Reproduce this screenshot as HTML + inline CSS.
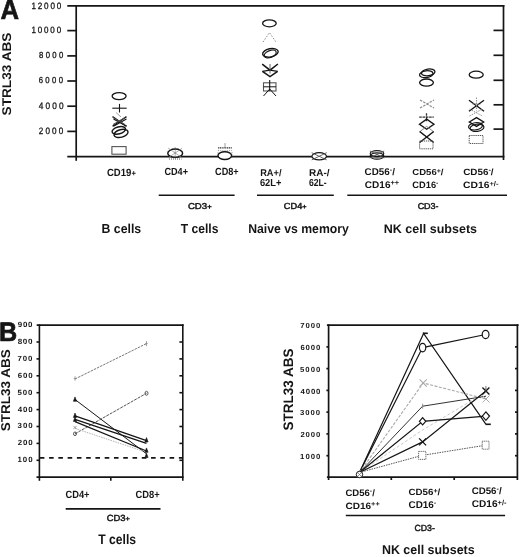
<!DOCTYPE html>
<html><head><meta charset="utf-8"><title>STRL33 expression</title>
<style>html,body{margin:0;padding:0;background:#fff;}svg{display:block;will-change:transform;}
text{font-family:"Liberation Sans",sans-serif;text-rendering:geometricPrecision;}</style></head>
<body><svg width="520" height="557" viewBox="0 0 520 557">
<rect width="520" height="557" fill="#fff"/>
<line x1="67.3" y1="5.8" x2="504.4" y2="5.8" stroke="#151515" stroke-width="1.70"/>
<line x1="76.2" y1="5.0" x2="76.2" y2="160.8" stroke="#151515" stroke-width="1.70"/>
<line x1="503.5" y1="5.0" x2="503.5" y2="160.0" stroke="#151515" stroke-width="1.70"/>
<line x1="67.3" y1="156.7" x2="504.4" y2="156.7" stroke="#151515" stroke-width="1.70"/>
<line x1="67.3" y1="30.6" x2="76.2" y2="30.6" stroke="#151515" stroke-width="1.70"/>
<line x1="67.3" y1="55.9" x2="76.2" y2="55.9" stroke="#151515" stroke-width="1.70"/>
<line x1="67.3" y1="81.0" x2="76.2" y2="81.0" stroke="#151515" stroke-width="1.70"/>
<line x1="67.3" y1="106.2" x2="76.2" y2="106.2" stroke="#151515" stroke-width="1.70"/>
<line x1="67.3" y1="131.4" x2="76.2" y2="131.4" stroke="#151515" stroke-width="1.70"/>
<line x1="493.5" y1="30.4" x2="503.5" y2="30.4" stroke="#151515" stroke-width="1.70"/>
<line x1="493.5" y1="55.3" x2="503.5" y2="55.3" stroke="#151515" stroke-width="1.70"/>
<line x1="493.5" y1="80.3" x2="503.5" y2="80.3" stroke="#151515" stroke-width="1.70"/>
<line x1="493.5" y1="104.8" x2="503.5" y2="104.8" stroke="#151515" stroke-width="1.70"/>
<line x1="493.5" y1="129.1" x2="503.5" y2="129.1" stroke="#151515" stroke-width="1.70"/>
<line x1="158.7" y1="195.2" x2="234.6" y2="195.2" stroke="#151515" stroke-width="1.60"/>
<line x1="257.0" y1="195.2" x2="333.8" y2="195.2" stroke="#151515" stroke-width="1.60"/>
<line x1="347.3" y1="195.2" x2="507.0" y2="195.2" stroke="#151515" stroke-width="1.60"/>
<ellipse cx="119.1" cy="96.1" rx="7.0" ry="3.5" fill="none" stroke="#151515" stroke-width="1.30"/>
<line x1="112.3" y1="108.2" x2="126.7" y2="108.2" stroke="#151515" stroke-width="1.10"/>
<line x1="119.5" y1="103.9" x2="119.5" y2="112.5" stroke="#151515" stroke-width="1.10"/>
<line x1="112.5" y1="116.6" x2="126.5" y2="126.2" stroke="#151515" stroke-width="1.30"/>
<line x1="112.5" y1="126.2" x2="126.5" y2="116.6" stroke="#151515" stroke-width="1.30"/>
<line x1="113.5" y1="119.0" x2="126.5" y2="126.2" stroke="#151515" stroke-width="1.10"/>
<line x1="113.5" y1="126.2" x2="126.5" y2="119.0" stroke="#151515" stroke-width="1.10"/>
<line x1="113.0" y1="117.5" x2="125.0" y2="124.5" stroke="#555" stroke-width="1.00"/>
<line x1="113.0" y1="124.5" x2="125.0" y2="117.5" stroke="#555" stroke-width="1.00"/>
<ellipse cx="118.8" cy="130.4" rx="6.9" ry="3.5" fill="none" stroke="#151515" stroke-width="1.40" transform="rotate(-15.0 118.8 130.4)"/>
<ellipse cx="121.0" cy="133.4" rx="7.2" ry="3.8" fill="none" stroke="#151515" stroke-width="1.40" transform="rotate(-15.0 121.0 133.4)"/>
<line x1="116.0" y1="112.5" x2="121.0" y2="117.0" stroke="#888" stroke-width="0.80"/>
<rect x="111.9" y="146.6" width="14.2" height="7.6" fill="none" stroke="#555" stroke-width="1.10"/>
<line x1="169.0" y1="159.0" x2="181.5" y2="159.0" stroke="#555" stroke-width="1.00" stroke-dasharray="1 1"/>
<ellipse cx="175.2" cy="153.2" rx="7.4" ry="4.1" fill="#fff" stroke="#151515" stroke-width="1.50"/>
<line x1="168.2" y1="148.2" x2="182.2" y2="157.8" stroke="#888" stroke-width="0.70"/>
<line x1="168.2" y1="157.8" x2="182.2" y2="148.2" stroke="#888" stroke-width="0.70"/>
<line x1="175.2" y1="147.5" x2="175.2" y2="159.0" stroke="#555" stroke-width="0.90" stroke-dasharray="1 1"/>
<line x1="225.0" y1="143.0" x2="225.0" y2="148.0" stroke="#888" stroke-width="0.80"/>
<line x1="218.0" y1="147.9" x2="232.0" y2="147.9" stroke="#333" stroke-width="1.30" stroke-dasharray="1.2 0.6"/>
<rect x="218.0" y="150.6" width="14.0" height="6.0" fill="none" stroke="#888" stroke-width="0.80" stroke-dasharray="1 1.2"/>
<ellipse cx="224.8" cy="155.6" rx="6.8" ry="3.9" fill="#fff" stroke="#151515" stroke-width="1.40"/>
<ellipse cx="269.4" cy="23.3" rx="6.8" ry="3.5" fill="none" stroke="#151515" stroke-width="1.30"/>
<polyline points="263.0,42.0 269.5,32.6 276.0,42.0" fill="none" stroke="#888" stroke-width="1.00" stroke-dasharray="1.5 1.5"/>
<ellipse cx="270.4" cy="52.8" rx="7.9" ry="4.1" fill="none" stroke="#151515" stroke-width="1.40" transform="rotate(-12.0 270.4 52.8)"/>
<ellipse cx="270.2" cy="54.0" rx="6.3" ry="3.4" fill="none" stroke="#151515" stroke-width="1.20" transform="rotate(-22.0 270.2 54.0)"/>
<polyline points="262.2,64.2 270.0,70.2 277.9,64.0" fill="none" stroke="#151515" stroke-width="1.50"/>
<polyline points="262.4,71.4 270.0,70.2 277.6,71.4" fill="none" stroke="#151515" stroke-width="1.30"/>
<polyline points="262.4,71.4 270.0,76.6 277.6,71.4" fill="none" stroke="#151515" stroke-width="1.50"/>
<line x1="270.0" y1="64.0" x2="270.0" y2="73.5" stroke="#555" stroke-width="0.90"/>
<rect x="263.5" y="82.8" width="12.5" height="8.2" fill="none" stroke="#555" stroke-width="1.10"/>
<line x1="269.7" y1="80.0" x2="269.7" y2="91.0" stroke="#151515" stroke-width="1.10"/>
<line x1="263.5" y1="86.8" x2="276.0" y2="86.8" stroke="#151515" stroke-width="1.00"/>
<line x1="269.7" y1="89.0" x2="263.5" y2="96.0" stroke="#151515" stroke-width="1.00"/>
<line x1="269.7" y1="89.0" x2="276.0" y2="96.0" stroke="#151515" stroke-width="1.00"/>
<ellipse cx="319.2" cy="156.3" rx="7.3" ry="3.6" fill="#fff" stroke="#151515" stroke-width="1.20"/>
<line x1="311.7" y1="152.7" x2="326.7" y2="159.9" stroke="#555" stroke-width="0.90"/>
<line x1="311.7" y1="159.9" x2="326.7" y2="152.7" stroke="#555" stroke-width="0.90"/>
<ellipse cx="377.0" cy="153.6" rx="6.8" ry="3.0" fill="none" stroke="#151515" stroke-width="1.20"/>
<ellipse cx="377.0" cy="156.0" rx="6.8" ry="3.2" fill="none" stroke="#151515" stroke-width="1.20"/>
<line x1="369.8" y1="151.0" x2="384.2" y2="158.0" stroke="#555" stroke-width="0.90"/>
<line x1="369.8" y1="158.0" x2="384.2" y2="151.0" stroke="#555" stroke-width="0.90"/>
<ellipse cx="428.2" cy="72.4" rx="6.8" ry="3.4" fill="none" stroke="#151515" stroke-width="1.30" transform="rotate(-8.0 428.2 72.4)"/>
<ellipse cx="426.3" cy="74.2" rx="6.8" ry="3.4" fill="none" stroke="#151515" stroke-width="1.30" transform="rotate(-8.0 426.3 74.2)"/>
<ellipse cx="426.5" cy="82.6" rx="6.9" ry="3.6" fill="none" stroke="#151515" stroke-width="1.30"/>
<line x1="420.0" y1="100.0" x2="434.0" y2="108.0" stroke="#888" stroke-width="1.10" stroke-dasharray="2.5 1.2"/>
<line x1="420.0" y1="108.0" x2="434.0" y2="100.0" stroke="#888" stroke-width="1.10" stroke-dasharray="2.5 1.2"/>
<line x1="419.2" y1="117.2" x2="433.8" y2="117.2" stroke="#333" stroke-width="1.30" stroke-dasharray="2.6 0.7"/>
<line x1="426.5" y1="113.2" x2="426.5" y2="121.2" stroke="#333" stroke-width="1.30" stroke-dasharray="2.6 0.7"/>
<polygon points="419.5,124.2 426.7,119.2 433.9,124.2 426.7,129.2" fill="none" stroke="#151515" stroke-width="1.40"/>
<polygon points="419.7,131.8 426.7,126.4 433.7,131.8 426.7,137.2" fill="none" stroke="#888" stroke-width="1.00"/>
<line x1="419.7" y1="131.5" x2="433.7" y2="142.5" stroke="#151515" stroke-width="1.40"/>
<line x1="419.7" y1="142.5" x2="433.7" y2="131.5" stroke="#151515" stroke-width="1.40"/>
<rect x="419.6" y="141.0" width="13.4" height="7.8" fill="none" stroke="#555" stroke-width="1.00" stroke-dasharray="1.3 0.8"/>
<ellipse cx="476.2" cy="74.7" rx="7.0" ry="3.5" fill="none" stroke="#151515" stroke-width="1.30"/>
<line x1="469.0" y1="100.3" x2="484.0" y2="111.3" stroke="#151515" stroke-width="1.40"/>
<line x1="469.0" y1="111.3" x2="484.0" y2="100.3" stroke="#151515" stroke-width="1.40"/>
<line x1="472.5" y1="104.0" x2="480.5" y2="104.0" stroke="#888" stroke-width="0.90" stroke-dasharray="1.5 1"/>
<line x1="476.5" y1="97.5" x2="476.5" y2="110.5" stroke="#888" stroke-width="0.90" stroke-dasharray="1.5 1"/>
<line x1="469.5" y1="109.0" x2="482.5" y2="116.0" stroke="#888" stroke-width="0.90" stroke-dasharray="1.5 1"/>
<line x1="469.5" y1="116.0" x2="482.5" y2="109.0" stroke="#888" stroke-width="0.90" stroke-dasharray="1.5 1"/>
<polygon points="469.3,122.0 476.5,117.6 483.7,122.0 476.5,126.4" fill="none" stroke="#151515" stroke-width="1.30"/>
<ellipse cx="475.5" cy="126.3" rx="7.0" ry="3.6" fill="none" stroke="#151515" stroke-width="1.20" transform="rotate(-8.0 475.5 126.3)"/>
<ellipse cx="477.0" cy="127.8" rx="7.0" ry="3.6" fill="none" stroke="#151515" stroke-width="1.20" transform="rotate(-8.0 477.0 127.8)"/>
<rect x="469.2" y="135.5" width="13.8" height="8.0" fill="none" stroke="#555" stroke-width="1.00" stroke-dasharray="1.3 0.8"/>
<line x1="36.7" y1="325.1" x2="183.6" y2="325.1" stroke="#151515" stroke-width="1.60"/>
<line x1="39.4" y1="324.3" x2="39.4" y2="480.8" stroke="#151515" stroke-width="1.60"/>
<line x1="182.8" y1="324.3" x2="182.8" y2="480.8" stroke="#151515" stroke-width="1.60"/>
<line x1="36.5" y1="477.1" x2="183.6" y2="477.1" stroke="#151515" stroke-width="1.60"/>
<line x1="36.5" y1="342.0" x2="39.4" y2="342.0" stroke="#151515" stroke-width="1.60"/>
<line x1="179.4" y1="342.0" x2="182.8" y2="342.0" stroke="#151515" stroke-width="1.60"/>
<line x1="36.5" y1="358.9" x2="39.4" y2="358.9" stroke="#151515" stroke-width="1.60"/>
<line x1="179.4" y1="358.9" x2="182.8" y2="358.9" stroke="#151515" stroke-width="1.60"/>
<line x1="36.5" y1="375.8" x2="39.4" y2="375.8" stroke="#151515" stroke-width="1.60"/>
<line x1="179.4" y1="375.8" x2="182.8" y2="375.8" stroke="#151515" stroke-width="1.60"/>
<line x1="36.5" y1="392.7" x2="39.4" y2="392.7" stroke="#151515" stroke-width="1.60"/>
<line x1="179.4" y1="392.7" x2="182.8" y2="392.7" stroke="#151515" stroke-width="1.60"/>
<line x1="36.5" y1="409.6" x2="39.4" y2="409.6" stroke="#151515" stroke-width="1.60"/>
<line x1="179.4" y1="409.6" x2="182.8" y2="409.6" stroke="#151515" stroke-width="1.60"/>
<line x1="36.5" y1="426.5" x2="39.4" y2="426.5" stroke="#151515" stroke-width="1.60"/>
<line x1="179.4" y1="426.5" x2="182.8" y2="426.5" stroke="#151515" stroke-width="1.60"/>
<line x1="36.5" y1="443.4" x2="39.4" y2="443.4" stroke="#151515" stroke-width="1.60"/>
<line x1="179.4" y1="443.4" x2="182.8" y2="443.4" stroke="#151515" stroke-width="1.60"/>
<line x1="36.5" y1="460.3" x2="39.4" y2="460.3" stroke="#151515" stroke-width="1.60"/>
<line x1="179.4" y1="460.3" x2="182.8" y2="460.3" stroke="#151515" stroke-width="1.60"/>
<line x1="110.8" y1="477.1" x2="110.8" y2="480.8" stroke="#151515" stroke-width="1.60"/>
<line x1="39.8" y1="457.8" x2="182.5" y2="457.8" stroke="#151515" stroke-width="1.80" stroke-dasharray="4.6 4.67"/>
<line x1="65.7" y1="508.9" x2="160.5" y2="508.9" stroke="#151515" stroke-width="1.60"/>
<polyline points="75.0,379.0 146.5,343.6" fill="none" stroke="#666" stroke-width="0.90" stroke-dasharray="2.5 1"/>
<line x1="73.8" y1="378.5" x2="76.2" y2="378.5" stroke="#888" stroke-width="0.80"/>
<line x1="75.0" y1="376.3" x2="75.0" y2="380.7" stroke="#888" stroke-width="0.80"/>
<line x1="145.3" y1="343.6" x2="147.7" y2="343.6" stroke="#888" stroke-width="0.80"/>
<line x1="146.5" y1="341.1" x2="146.5" y2="346.1" stroke="#888" stroke-width="0.80"/>
<polyline points="75.0,399.5 146.5,453.8" fill="none" stroke="#151515" stroke-width="1.00"/>
<polyline points="75.0,433.8 146.5,393.3" fill="none" stroke="#555" stroke-width="1.00" stroke-dasharray="3 1"/>
<polyline points="75.0,415.9 146.5,440.7" fill="none" stroke="#151515" stroke-width="1.30"/>
<polyline points="75.0,419.3 146.5,443.3" fill="none" stroke="#151515" stroke-width="1.30"/>
<polyline points="75.0,421.6 146.5,451.0" fill="none" stroke="#151515" stroke-width="1.20"/>
<polyline points="75.0,428.4 146.5,452.3" fill="none" stroke="#aaa" stroke-width="0.90" stroke-dasharray="1.5 1"/>
<polygon points="73.4,401.3 75.0,396.9 76.6,401.3" fill="#151515" stroke="#151515" stroke-width="0.60"/>
<polygon points="73.4,417.4 75.0,413.0 76.6,417.4" fill="#151515" stroke="#151515" stroke-width="0.60"/>
<polygon points="73.4,421.4 75.0,417.0 76.6,421.4" fill="#151515" stroke="#151515" stroke-width="0.60"/>
<polygon points="144.9,442.0 146.5,437.6 148.1,442.0" fill="#151515" stroke="#151515" stroke-width="0.60"/>
<polygon points="144.9,452.3 146.5,447.9 148.1,452.3" fill="#151515" stroke="#151515" stroke-width="0.60"/>
<polygon points="144.9,457.6 146.5,453.2 148.1,457.6" fill="#151515" stroke="#151515" stroke-width="0.60"/>
<line x1="73.4" y1="425.9" x2="76.6" y2="429.1" stroke="#888" stroke-width="0.80"/>
<line x1="73.4" y1="429.1" x2="76.6" y2="425.9" stroke="#888" stroke-width="0.80"/>
<ellipse cx="75.0" cy="433.8" rx="1.5" ry="1.8" fill="none" stroke="#555" stroke-width="1.00"/>
<ellipse cx="146.5" cy="393.3" rx="1.5" ry="2.0" fill="none" stroke="#555" stroke-width="1.00"/>
<line x1="326.9" y1="325.1" x2="518.6" y2="325.1" stroke="#151515" stroke-width="1.70"/>
<line x1="328.6" y1="324.3" x2="328.6" y2="480.0" stroke="#151515" stroke-width="1.70"/>
<line x1="517.4" y1="324.3" x2="517.4" y2="480.0" stroke="#151515" stroke-width="1.70"/>
<line x1="326.9" y1="477.1" x2="517.4" y2="477.1" stroke="#151515" stroke-width="1.70"/>
<line x1="326.4" y1="346.9" x2="328.6" y2="346.9" stroke="#151515" stroke-width="1.70"/>
<line x1="515.0" y1="346.9" x2="517.4" y2="346.9" stroke="#151515" stroke-width="1.70"/>
<line x1="326.4" y1="368.6" x2="328.6" y2="368.6" stroke="#151515" stroke-width="1.70"/>
<line x1="515.0" y1="368.6" x2="517.4" y2="368.6" stroke="#151515" stroke-width="1.70"/>
<line x1="326.4" y1="390.4" x2="328.6" y2="390.4" stroke="#151515" stroke-width="1.70"/>
<line x1="515.0" y1="390.4" x2="517.4" y2="390.4" stroke="#151515" stroke-width="1.70"/>
<line x1="326.4" y1="412.1" x2="328.6" y2="412.1" stroke="#151515" stroke-width="1.70"/>
<line x1="515.0" y1="412.1" x2="517.4" y2="412.1" stroke="#151515" stroke-width="1.70"/>
<line x1="326.4" y1="433.9" x2="328.6" y2="433.9" stroke="#151515" stroke-width="1.70"/>
<line x1="515.0" y1="433.9" x2="517.4" y2="433.9" stroke="#151515" stroke-width="1.70"/>
<line x1="326.4" y1="455.7" x2="328.6" y2="455.7" stroke="#151515" stroke-width="1.70"/>
<line x1="515.0" y1="455.7" x2="517.4" y2="455.7" stroke="#151515" stroke-width="1.70"/>
<line x1="391.3" y1="477.1" x2="391.3" y2="480.0" stroke="#151515" stroke-width="1.70"/>
<line x1="454.2" y1="477.1" x2="454.2" y2="480.0" stroke="#151515" stroke-width="1.70"/>
<line x1="345.8" y1="515.5" x2="505.1" y2="515.5" stroke="#151515" stroke-width="1.70"/>
<polyline points="359.5,472.5 423.6,333.4 485.8,424.2" fill="none" stroke="#151515" stroke-width="1.20"/>
<line x1="422.8" y1="333.3" x2="427.8" y2="333.3" stroke="#151515" stroke-width="1.60"/>
<line x1="485.5" y1="424.3" x2="490.8" y2="424.3" stroke="#151515" stroke-width="1.60"/>
<polyline points="359.5,472.5 422.6,347.6 485.6,334.5" fill="none" stroke="#151515" stroke-width="1.20"/>
<polyline points="359.5,472.5 423.2,383.0 486.0,399.0" fill="none" stroke="#aaa" stroke-width="1.10" stroke-dasharray="3 1.5"/>
<polyline points="359.5,472.5 422.6,406.2 486.0,396.2" fill="none" stroke="#333" stroke-width="1.00"/>
<polyline points="359.5,472.5 422.6,430.0 486.0,392.0" fill="none" stroke="#c8c8c8" stroke-width="1.00" stroke-dasharray="3 2"/>
<polyline points="359.5,472.5 422.6,421.3 485.9,416.1" fill="none" stroke="#151515" stroke-width="1.20"/>
<polyline points="359.5,472.5 422.6,441.9 485.9,391.0" fill="none" stroke="#151515" stroke-width="1.20"/>
<polyline points="359.5,472.5 422.2,455.4 485.6,445.2" fill="none" stroke="#555" stroke-width="1.00" stroke-dasharray="1.5 1"/>
<ellipse cx="422.6" cy="347.6" rx="3.2" ry="4.2" fill="#fff" stroke="#151515" stroke-width="1.20"/>
<ellipse cx="485.6" cy="334.5" rx="3.4" ry="4.2" fill="#fff" stroke="#151515" stroke-width="1.20"/>
<line x1="419.6" y1="379.4" x2="426.8" y2="386.6" stroke="#aaa" stroke-width="1.10"/>
<line x1="419.6" y1="386.6" x2="426.8" y2="379.4" stroke="#aaa" stroke-width="1.10"/>
<line x1="482.5" y1="395.5" x2="489.5" y2="402.5" stroke="#aaa" stroke-width="1.00"/>
<line x1="482.5" y1="402.5" x2="489.5" y2="395.5" stroke="#aaa" stroke-width="1.00"/>
<line x1="421.8" y1="406.2" x2="423.4" y2="406.2" stroke="#888" stroke-width="0.90"/>
<line x1="422.6" y1="403.7" x2="422.6" y2="408.7" stroke="#888" stroke-width="0.90"/>
<polygon points="419.4,421.3 422.6,417.7 425.8,421.3 422.6,424.9" fill="#fff" stroke="#151515" stroke-width="1.20"/>
<polygon points="482.3,416.1 485.9,411.9 489.5,416.1 485.9,420.3" fill="#fff" stroke="#151515" stroke-width="1.20"/>
<line x1="419.1" y1="438.4" x2="426.1" y2="445.4" stroke="#151515" stroke-width="1.30"/>
<line x1="419.1" y1="445.4" x2="426.1" y2="438.4" stroke="#151515" stroke-width="1.30"/>
<line x1="482.4" y1="387.5" x2="489.4" y2="394.5" stroke="#151515" stroke-width="1.30"/>
<line x1="482.4" y1="394.5" x2="489.4" y2="387.5" stroke="#151515" stroke-width="1.30"/>
<line x1="485.4" y1="389.0" x2="486.4" y2="389.0" stroke="#555" stroke-width="0.80"/>
<line x1="485.9" y1="386.0" x2="485.9" y2="392.0" stroke="#555" stroke-width="0.80"/>
<rect x="418.6" y="451.4" width="7.3" height="8.0" fill="#fff" stroke="#555" stroke-width="0.90" stroke-dasharray="1.2 0.8"/>
<rect x="482.2" y="441.2" width="6.8" height="8.0" fill="#fff" stroke="#555" stroke-width="0.90" stroke-dasharray="1.2 0.8"/>
<ellipse cx="359.5" cy="474.5" rx="3.2" ry="3.2" fill="#fff" stroke="#151515" stroke-width="1.00"/>
<line x1="357.0" y1="472.0" x2="362.0" y2="477.0" stroke="#555" stroke-width="0.60"/>
<line x1="357.0" y1="477.0" x2="362.0" y2="472.0" stroke="#555" stroke-width="0.60"/>
<text transform="translate(0.45 18.89) scale(0.9292 1)" font-size="27.65" font-weight="bold" fill="#151515" stroke="#151515" stroke-width="0.70" stroke-linejoin="round">A</text>
<text transform="translate(31.38 8.63) scale(0.8800 1)" font-size="9.20" fill="#151515" stroke="#151515" stroke-width="0.30" stroke-linejoin="round" letter-spacing="2.13">12000</text>
<text transform="translate(31.42 33.32) scale(0.8800 1)" font-size="9.10" fill="#151515" stroke="#151515" stroke-width="0.30" stroke-linejoin="round" letter-spacing="2.11">10000</text>
<text transform="translate(38.98 57.95) scale(0.8800 1)" font-size="8.80" fill="#151515" stroke="#151515" stroke-width="0.30" stroke-linejoin="round" letter-spacing="2.68">8000</text>
<text transform="translate(38.66 83.27) scale(0.8800 1)" font-size="8.76" fill="#151515" stroke="#151515" stroke-width="0.30" stroke-linejoin="round" letter-spacing="2.76">6000</text>
<text transform="translate(38.78 109.47) scale(0.8800 1)" font-size="9.39" fill="#151515" stroke="#151515" stroke-width="0.30" stroke-linejoin="round" letter-spacing="2.45">4000</text>
<text transform="translate(38.65 133.85) scale(0.8800 1)" font-size="9.26" fill="#151515" stroke="#151515" stroke-width="0.30" stroke-linejoin="round" letter-spacing="2.50">2000</text>
<text transform="translate(10.73 115.45) rotate(-90) scale(1.0809 1)" font-size="12.63" font-weight="bold" fill="#151515">STRL33 ABS</text>
<text transform="translate(106.97 176.00) scale(0.9152 1)" font-size="10.44" font-weight="bold" fill="#151515">CD19<tspan font-size="8.35">+</tspan></text>
<text transform="translate(164.47 175.41) scale(0.8834 1)" font-size="10.29" font-weight="bold" fill="#151515">CD4+</text>
<text transform="translate(215.05 175.42) scale(0.8765 1)" font-size="10.44" font-weight="bold" fill="#151515">CD8+</text>
<text transform="translate(260.15 175.99) scale(0.9492 1)" font-size="9.74" font-weight="bold" fill="#151515">RA+/</text>
<text transform="translate(259.94 185.92) scale(0.9156 1)" font-size="10.16" font-weight="bold" fill="#151515">62L+</text>
<text transform="translate(309.04 175.79) scale(1.0202 1)" font-size="9.79" font-weight="bold" fill="#151515">RA-/</text>
<text transform="translate(308.97 185.92) scale(0.8474 1)" font-size="10.20" font-weight="bold" fill="#151515">62L-</text>
<text transform="translate(364.59 174.90) scale(1.0022 1)" font-size="9.82" font-weight="bold" fill="#151515">CD56<tspan font-size="7.27" dy="-2.95">-</tspan><tspan dy="2.95">/</tspan></text>
<text transform="translate(364.80 187.70) scale(1.0394 1)" font-size="9.66" font-weight="bold" fill="#151515">CD16<tspan font-size="7.14" dy="-2.90">++</tspan></text>
<text transform="translate(412.33 175.13) scale(1.0900 1)" font-size="8.75" font-weight="bold" fill="#151515">CD56<tspan font-size="6.48" dy="-2.63">+</tspan><tspan dy="2.63">/</tspan></text>
<text transform="translate(412.32 187.93) scale(0.9980 1)" font-size="9.31" font-weight="bold" fill="#151515">CD16<tspan font-size="6.89" dy="-2.79">-</tspan></text>
<text transform="translate(463.16 174.83) scale(1.0867 1)" font-size="9.08" font-weight="bold" fill="#151515">CD56<tspan font-size="6.72" dy="-2.72">-</tspan><tspan dy="2.72">/</tspan></text>
<text transform="translate(462.96 188.10) scale(1.1228 1)" font-size="9.21" font-weight="bold" fill="#151515">CD16<tspan font-size="6.81" dy="-1.75">+/-</tspan></text>
<text transform="translate(187.89 208.53) scale(1.1329 1)" font-size="8.49" fill="#151515" stroke="#151515" stroke-width="0.45" stroke-linejoin="round">CD3<tspan font-size="6.79">+</tspan></text>
<text transform="translate(283.81 208.71) scale(1.0521 1)" font-size="8.77" fill="#151515" stroke="#151515" stroke-width="0.45" stroke-linejoin="round">CD4<tspan font-size="7.02">+</tspan></text>
<text transform="translate(417.64 208.77) scale(1.0536 1)" font-size="8.52" fill="#151515" stroke="#151515" stroke-width="0.45" stroke-linejoin="round">CD3-</text>
<text transform="translate(101.53 233.21) scale(0.9498 1)" font-size="12.95" font-weight="bold" fill="#151515">B cells</text>
<text transform="translate(180.80 233.22) scale(0.9216 1)" font-size="13.13" font-weight="bold" fill="#151515">T cells</text>
<text transform="translate(248.14 233.29) scale(0.9566 1)" font-size="12.80" font-weight="bold" fill="#151515">Naive vs memory</text>
<text transform="translate(383.75 232.89) scale(1.0100 1)" font-size="12.41" font-weight="bold" fill="#151515">NK cell subsets</text>
<text transform="translate(-0.89 340.81) scale(0.9394 1)" font-size="26.82" font-weight="bold" fill="#151515" stroke="#151515" stroke-width="0.70" stroke-linejoin="round">B</text>
<text transform="translate(10.32 431.23) rotate(-90) scale(1.0575 1)" font-size="12.77" font-weight="bold" fill="#151515">STRL33 ABS</text>
<text transform="translate(65.45 498.31) scale(0.8810 1)" font-size="10.57" font-weight="bold" fill="#151515">CD4+</text>
<text transform="translate(135.48 498.20) scale(0.8860 1)" font-size="10.57" font-weight="bold" fill="#151515">CD8+</text>
<text transform="translate(106.78 521.26) scale(1.0640 1)" font-size="8.86" fill="#151515" stroke="#151515" stroke-width="0.45" stroke-linejoin="round">CD3<tspan font-size="7.09">+</tspan></text>
<text transform="translate(98.33 543.79) scale(0.8824 1)" font-size="13.76" font-weight="bold" fill="#151515">T cells</text>
<text transform="translate(292.75 430.62) rotate(-90) scale(0.9847 1)" font-size="13.74" font-weight="bold" fill="#151515">STRL33 ABS</text>
<text transform="translate(345.39 495.89) scale(1.0139 1)" font-size="9.43" font-weight="bold" fill="#151515">CD56<tspan font-size="6.98" dy="-2.83">-</tspan><tspan dy="2.83">/</tspan></text>
<text transform="translate(345.43 509.00) scale(1.0969 1)" font-size="9.16" font-weight="bold" fill="#151515">CD16<tspan font-size="6.78" dy="-2.75">++</tspan></text>
<text transform="translate(408.47 495.23) scale(1.0889 1)" font-size="8.96" font-weight="bold" fill="#151515">CD56<tspan font-size="6.63" dy="-2.69">+</tspan><tspan dy="2.69">/</tspan></text>
<text transform="translate(408.47 508.40) scale(1.0100 1)" font-size="9.84" font-weight="bold" fill="#151515">CD16<tspan font-size="7.28" dy="-2.95">-</tspan></text>
<text transform="translate(471.63 493.65) scale(1.0147 1)" font-size="9.61" font-weight="bold" fill="#151515">CD56<tspan font-size="7.11" dy="-2.88">-</tspan><tspan dy="2.88">/</tspan></text>
<text transform="translate(471.79 506.82) scale(1.0305 1)" font-size="9.79" font-weight="bold" fill="#151515">CD16<tspan font-size="7.25" dy="-1.86">+/-</tspan></text>
<text transform="translate(414.51 531.14) scale(0.9833 1)" font-size="8.90" fill="#151515" stroke="#151515" stroke-width="0.45" stroke-linejoin="round">CD3-</text>
<text transform="translate(381.91 554.03) scale(0.9728 1)" font-size="12.81" font-weight="bold" fill="#151515">NK cell subsets</text>
<text transform="translate(17.84 327.31) scale(1.0500 1)" font-size="7.55" font-weight="bold" fill="#151515" letter-spacing="0.60">900</text>
<text transform="translate(17.80 344.00) scale(1.0500 1)" font-size="7.67" font-weight="bold" fill="#151515" letter-spacing="0.56">800</text>
<text transform="translate(17.59 360.65) scale(1.0500 1)" font-size="7.44" font-weight="bold" fill="#151515" letter-spacing="0.84">700</text>
<text transform="translate(17.74 377.59) scale(1.0500 1)" font-size="7.51" font-weight="bold" fill="#151515" letter-spacing="0.88">600</text>
<text transform="translate(17.52 394.78) scale(1.0500 1)" font-size="7.47" font-weight="bold" fill="#151515" letter-spacing="0.89">500</text>
<text transform="translate(17.78 411.78) scale(1.0500 1)" font-size="7.53" font-weight="bold" fill="#151515" letter-spacing="0.76">400</text>
<text transform="translate(17.45 427.98) scale(1.0500 1)" font-size="7.51" font-weight="bold" fill="#151515" letter-spacing="1.02">300</text>
<text transform="translate(17.87 445.22) scale(1.0500 1)" font-size="7.54" font-weight="bold" fill="#151515" letter-spacing="0.71">200</text>
<text transform="translate(17.54 461.91) scale(1.0500 1)" font-size="7.53" font-weight="bold" fill="#151515" letter-spacing="0.87">100</text>
<text transform="translate(300.15 328.42) scale(1.0500 1)" font-size="7.35" font-weight="bold" fill="#151515" letter-spacing="0.92">7000</text>
<text transform="translate(300.40 350.31) scale(1.0500 1)" font-size="7.37" font-weight="bold" fill="#151515" letter-spacing="0.82">6000</text>
<text transform="translate(300.09 371.73) scale(1.0500 1)" font-size="7.36" font-weight="bold" fill="#151515" letter-spacing="0.94">5000</text>
<text transform="translate(300.59 394.06) scale(1.0500 1)" font-size="7.41" font-weight="bold" fill="#151515" letter-spacing="0.80">4000</text>
<text transform="translate(300.12 415.42) scale(1.0500 1)" font-size="7.35" font-weight="bold" fill="#151515" letter-spacing="0.88">3000</text>
<text transform="translate(300.40 437.21) scale(1.0500 1)" font-size="7.35" font-weight="bold" fill="#151515" letter-spacing="0.88">2000</text>
<text transform="translate(300.06 458.86) scale(1.0500 1)" font-size="7.36" font-weight="bold" fill="#151515" letter-spacing="0.99">1000</text>
</svg></body></html>
